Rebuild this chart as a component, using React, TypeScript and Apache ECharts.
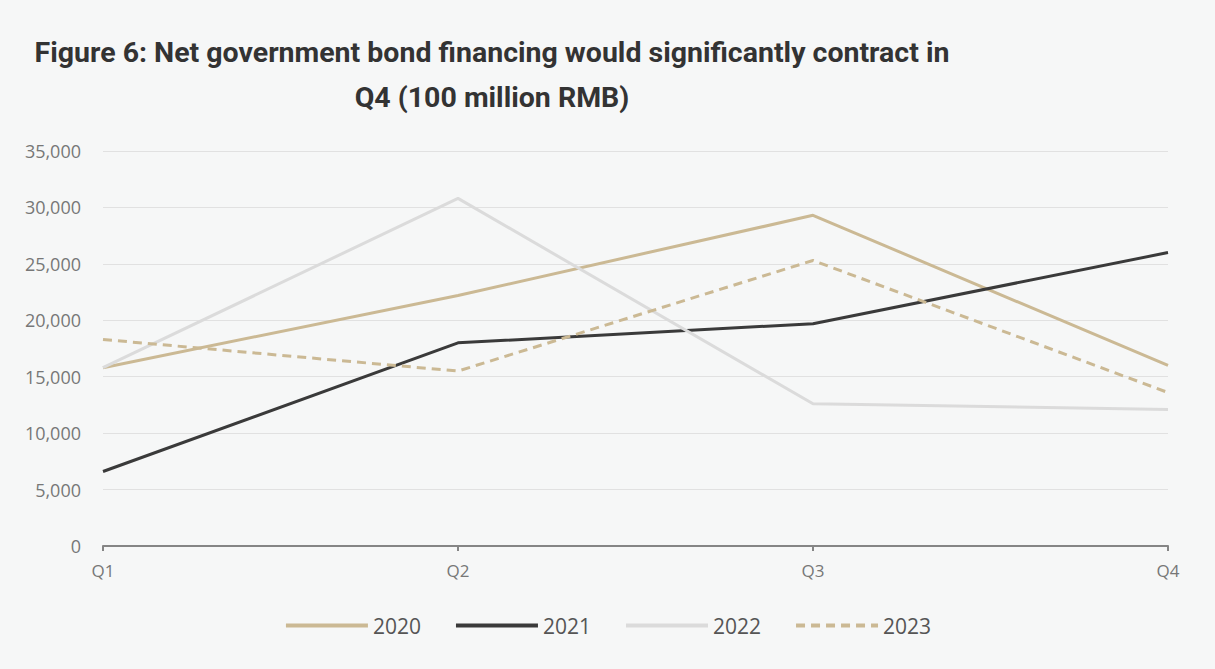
import React, { useEffect, useRef } from "react";
import * as echarts from "echarts";

const categories = ["Q1", "Q2", "Q3", "Q4"];
const s2020 = [15800, 22200, 29300, 16000];
const s2021 = [6600, 18000, 19700, 26000];
const s2022 = [15800, 30800, 12600, 12100];
const s2023 = [18300, 15500, 25300, 13600];
const yTicks = { min: 0, max: 35000, interval: 5000 };
const titleText = "Figure 6: Net government bond financing would significantly contract in\nQ4 (100 million RMB)";

export default function App() {
  const ref = useRef<HTMLDivElement>(null);
  useEffect(() => {
    document.body.style.margin = "0";
    const chart = echarts.init(ref.current!, null, { renderer: "svg" });
    const tan = "#cbb994";
    chart.setOption({
      animation: false,
      backgroundColor: "#f6f7f7",
      title: {
        text: titleText,
        left: 487,
        top: 25,
        textAlign: "center",
        textStyle: {
          fontFamily: "Roboto",
          fontWeight: "bold",
          fontSize: 28.5,
          color: "#333333",
          lineHeight: 45,
          align: "center",
        },
      },
      legend: {
        bottom: 28,
        left: "center",
        itemWidth: 82,
        itemHeight: 10,
        itemGap: 33,
        itemStyle: { opacity: 0 },
        lineStyle: { width: 4 },
        textStyle: { fontFamily: "Open Sans", fontSize: 21, color: "#555555" },
        data: ["2020", "2021", "2022", "2023"],
      },
      grid: { left: 103, right: 47, top: 151, bottom: 123 },
      xAxis: {
        type: "category",
        data: categories,
        boundaryGap: false,
        axisLine: { lineStyle: { color: "#858585", width: 2 } },
        axisTick: { show: true, length: 5, lineStyle: { color: "#858585", width: 2 } },
        axisLabel: { color: "#777777", fontSize: 17, fontFamily: "Open Sans", margin: 16 },
        splitLine: { show: false },
      },
      yAxis: {
        type: "value",
        min: yTicks.min,
        max: yTicks.max,
        interval: yTicks.interval,
        axisLine: { show: false },
        axisTick: { show: false },
        axisLabel: {
          color: "#777777",
          fontSize: 18,
          fontFamily: "Open Sans",
          margin: 22,
          formatter: (v: number) => v.toLocaleString("en-US"),
        },
        splitLine: { lineStyle: { color: "#e1e1e1", width: 1 } },
      },
      series: [
        { name: "2020", type: "line", data: s2020, symbol: "none", lineStyle: { color: tan, width: 3 }, itemStyle: { color: tan } },
        { name: "2021", type: "line", data: s2021, symbol: "none", lineStyle: { color: "#3a3a3a", width: 3 }, itemStyle: { color: "#3a3a3a" } },
        { name: "2022", type: "line", data: s2022, symbol: "none", lineStyle: { color: "#dbdbdb", width: 3 }, itemStyle: { color: "#dbdbdb" } },
        { name: "2023", type: "line", data: s2023, symbol: "none", lineStyle: { color: tan, width: 3, type: [9, 6] }, itemStyle: { color: tan } },
      ],
    });
    return () => chart.dispose();
  }, []);
  return <div ref={ref} style={{ width: 1215, height: 669 }} />;
}
